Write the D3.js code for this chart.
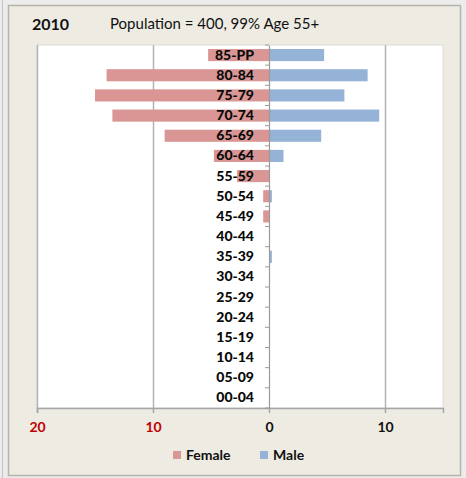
<!DOCTYPE html>
<html>
<head>
<meta charset="utf-8">
<script src="https://cdn.jsdelivr.net/npm/d3@7"></script>
<style>
  html, body { margin: 0; padding: 0; background: #ececec; }
  svg { display: block; }
</style>
</head>
<body>
<svg id="chart" width="466" height="478"></svg>
<script>
// Age groups, oldest at the top
const ageGroups = ["85-PP","80-84","75-79","70-74","65-69","60-64","55-59","50-54","45-49",
                   "40-44","35-39","30-34","25-29","20-24","15-19","10-14","05-09","00-04"];
// Percent of total population per age group
const femaleValues = [5.25, 14, 15, 13.5, 9, 4.75, 2.75, 0.5, 0.5, 0, 0, 0, 0, 0, 0, 0, 0, 0];
const maleValues   = [4.75, 8.5, 6.5, 9.5, 4.5, 1.25, 0, 0.25, 0, 0, 0.25, 0, 0, 0, 0, 0, 0, 0];
// Axis ticks (female side is plotted as negative)
const tickValues = [-20, -10, 0, 10];
const seriesNames = ["Female", "Male"];

const femaleColor = "#d99694";
const maleColor = "#95b3d7";
const fontFamily = "Lato, 'Open Sans', sans-serif";

const svg = d3.select("#chart");

// Outer frame and panel
svg.append("line").attr("x1", 2.5).attr("x2", 2.5).attr("y1", 0).attr("y2", 478)
  .attr("stroke", "#c4c4c4").attr("stroke-width", 1);
svg.append("rect").attr("x", 8.5).attr("y", 5.5).attr("width", 452).attr("height", 470)
  .attr("fill", "#eeebe2").attr("stroke", "#b4b4ac").attr("stroke-width", 1.5);

const x = d3.scaleLinear().domain([-20, 15]).range([37, 443]);
const y = d3.scaleBand().domain(ageGroups).range([45, 408]).paddingInner(0.4).paddingOuter(0.2);

// Plot area
svg.append("rect").attr("x", x(-20)).attr("y", 45).attr("width", x(15) - x(-20)).attr("height", 363)
  .attr("fill", "#ffffff").attr("stroke", "#dcdcd6").attr("stroke-width", 1);

// Vertical gridlines
svg.append("g").selectAll("line").data(tickValues.filter(d => d !== 0)).join("line")
  .attr("x1", d => x(d) + 0.5).attr("x2", d => x(d) + 0.5)
  .attr("y1", 45).attr("y2", 408)
  .attr("stroke", "#b4b4b4").attr("stroke-width", 1.5);

// Bars
const rows = ageGroups.map((g, i) => ({ group: g, female: femaleValues[i], male: maleValues[i] }));
svg.append("g").selectAll("rect").data(rows).join("rect")
  .attr("x", d => x(-d.female)).attr("width", d => x(0) - x(-d.female))
  .attr("y", d => y(d.group)).attr("height", y.bandwidth())
  .attr("fill", femaleColor);
svg.append("g").selectAll("rect").data(rows).join("rect")
  .attr("x", x(0)).attr("width", d => x(d.male) - x(0))
  .attr("y", d => y(d.group)).attr("height", y.bandwidth())
  .attr("fill", maleColor);

// Bottom value axis
const xAxis = svg.append("g").attr("transform", "translate(0,408)")
  .call(d3.axisBottom(x).tickValues(tickValues).tickSize(5).tickFormat(d => Math.abs(d)));
xAxis.select(".domain").attr("stroke", "#a6a6a6").attr("stroke-width", 1.5);
xAxis.selectAll(".tick line").attr("stroke", "#a6a6a6").attr("stroke-width", 1.5);
xAxis.selectAll(".tick text")
  .attr("y", 14)
  .attr("font-family", fontFamily).attr("font-size", 14).attr("font-weight", "bold")
  .attr("fill", d => d < 0 ? "#c00000" : "#111111");

// Category axis at zero, labels sitting over the female bars
const yAxis = svg.append("g").attr("transform", `translate(${x(0)},0)`)
  .call(d3.axisLeft(y).tickSize(0).tickPadding(15));
yAxis.select(".domain").attr("stroke", "#9a9a9a").attr("stroke-width", 1.2);
yAxis.selectAll(".tick text")
  .attr("font-family", fontFamily).attr("font-size", 14).attr("font-weight", "900")
  .attr("fill", "#0a0a0a");

// Small marks between categories
const [y0, y1] = y.range();
svg.append("g").selectAll("line").data(d3.range(ageGroups.length + 1)).join("line")
  .attr("x1", x(0) - 4).attr("x2", x(0))
  .attr("y1", i => y0 + i * (y1 - y0) / ageGroups.length)
  .attr("y2", i => y0 + i * (y1 - y0) / ageGroups.length)
  .attr("stroke", "#9a9a9a").attr("stroke-width", 1);

// Titles
svg.append("text").attr("x", 32).attr("y", 30)
  .attr("font-family", fontFamily).attr("font-size", 16).attr("font-weight", "bold")
  .attr("fill", "#111111").text("2010");
svg.append("text").attr("x", 110).attr("y", 29)
  .attr("font-family", fontFamily).attr("font-size", 15)
  .attr("fill", "#111111").text("Population = 400, 99% Age 55+");

// Legend
const legend = svg.append("g");
const legendItems = [
  { name: seriesNames[0], color: femaleColor, x: 173 },
  { name: seriesNames[1], color: maleColor, x: 260 }
];
legendItems.forEach(item => {
  legend.append("rect").attr("x", item.x).attr("y", 451).attr("width", 8).attr("height", 8)
    .attr("fill", item.color);
  legend.append("text").attr("x", item.x + 13).attr("y", 460)
    .attr("font-family", fontFamily).attr("font-size", 14).attr("font-weight", "bold")
    .attr("fill", "#111111").text(item.name);
});
</script>
</body>
</html>
